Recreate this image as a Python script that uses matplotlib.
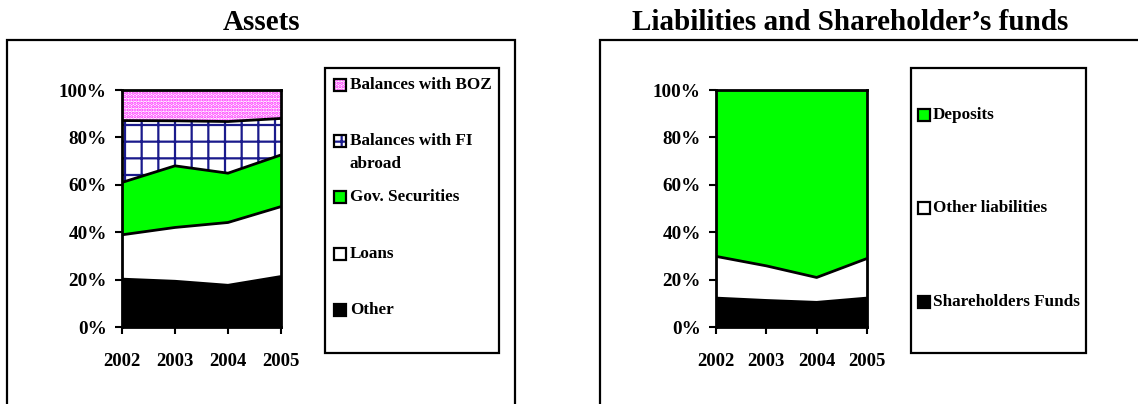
import numpy as np
import matplotlib
matplotlib.use('Agg')
import matplotlib.pyplot as plt
from matplotlib.patches import Rectangle

plt.rcParams['font.family'] = 'Liberation Serif'
plt.rcParams['font.weight'] = 'bold'
plt.rcParams['hatch.linewidth'] = 1.6

years = [2002, 2003, 2004, 2005]

# Assets (% shares, bottom to top)
other = [20.2, 19.3, 17.6, 21.3]
loans = [18.7, 22.7, 26.5, 29.5]
gov_sec = [22.1, 26.0, 20.8, 21.8]
fi_abroad = [26.1, 19.0, 21.8, 15.4]
boz = [12.9, 13.0, 13.3, 12.0]

# Liabilities and shareholder's funds (% shares, bottom to top)
sh_funds = [12.2, 11.2, 10.4, 12.2]
other_liab = [17.6, 14.6, 10.5, 16.7]
deposits = [70.2, 74.2, 79.1, 71.1]

asset_labels = ['Other', 'Loans', 'Gov. Securities', 'Balances with FI\nabroad', 'Balances with BOZ']
liab_labels = ['Shareholders Funds', 'Other liabilities', 'Deposits']

# fill styles: (facecolor, hatch, hatch colour)
asset_styles = [('black', None, 'black'), ('white', None, 'black'), ('#00FF00', None, 'black'),
                ('white', '+', '#1A1A8C'), ('white', '.....', '#FF22FF')]
liab_styles = [('black', None, 'black'), ('white', None, 'black'), ('#00FF00', None, 'black')]

W, H = 1138, 404
fig = plt.figure(figsize=(W / 100, H / 100), dpi=100)


def fx(x):
    return x / W


def fy(y):
    return 1 - y / H


def stacked(ax, series, styles):
    base = np.zeros(len(years))
    for vals, (fc, hatch, hc) in zip(series, styles):
        top = base + np.array(vals)
        ax.fill_between(years, base, top, facecolor=fc, hatch=hatch, edgecolor=hc, linewidth=0)
        base = top
    base = np.zeros(len(years))
    for vals in series[:-1]:
        base = base + np.array(vals)
        ax.plot(years, base, color='black', lw=2, solid_capstyle='butt')
    ax.set_xlim(2002, 2005)
    ax.set_ylim(0, 100)
    ax.set_xticks(years)
    ax.set_xticklabels([str(y) for y in years])
    ax.set_yticks(range(0, 101, 20))
    ax.set_yticklabels([f'{v}%' for v in range(0, 101, 20)])
    ax.tick_params(axis='y', direction='out', length=5, width=1.5, pad=6, labelsize=13.8)
    ax.tick_params(axis='x', direction='out', length=5, width=1.5, pad=14, labelsize=13.5)
    for s in ax.spines.values():
        s.set_linewidth(2)
        s.set_color('black')


def legend(labels, styles, rows, px, tx):
    for lab, (fc, hatch, hc), ry in zip(labels, styles, rows):
        xy = (fx(px), fy(ry + 6))
        fig.patches.append(Rectangle(xy, fx(12), 12 / H, transform=fig.transFigure,
                                     facecolor=fc, hatch=hatch, edgecolor=hc, lw=0))
        fig.patches.append(Rectangle(xy, fx(12), 12 / H, transform=fig.transFigure,
                                     facecolor='none', edgecolor='black', lw=1.6))
        for i, line in enumerate(lab.split('\n')):
            fig.text(fx(tx), fy(ry + i * 23), line, fontsize=12.3, fontweight='bold',
                     ha='left', va='center')


# outer frames
fig.patches.append(Rectangle((fx(7), -0.1), fx(508), fy(40) + 0.1, transform=fig.transFigure,
                             facecolor='none', edgecolor='black', lw=1.6))
fig.patches.append(Rectangle((fx(600), -0.1), fx(600), fy(40) + 0.1, transform=fig.transFigure,
                             facecolor='none', edgecolor='black', lw=1.6))

fig.text(fx(262), fy(22), 'Assets', fontsize=21, fontweight='bold', ha='center', va='center')
fig.text(fx(850), fy(22), 'Liabilities and Shareholder\u2019s funds', fontsize=21,
         fontweight='bold', ha='center', va='center')

ax1 = fig.add_axes([fx(122), fy(327), fx(159), 237 / H])
stacked(ax1, [other, loans, gov_sec, fi_abroad, boz], asset_styles)

ax2 = fig.add_axes([fx(716), fy(327), fx(151), 237 / H])
stacked(ax2, [sh_funds, other_liab, deposits], liab_styles)

# legend boxes
fig.patches.append(Rectangle((fx(325), fy(353)), fx(174), 285 / H, transform=fig.transFigure,
                             facecolor='white', edgecolor='black', lw=1.6))
fig.patches.append(Rectangle((fx(911), fy(353)), fx(175), 285 / H, transform=fig.transFigure,
                             facecolor='white', edgecolor='black', lw=1.6))

# legend entries, top to bottom
legend(asset_labels[::-1], asset_styles[::-1], [85, 141, 197, 254, 310], 334, 350)
legend(liab_labels[::-1], liab_styles[::-1], [115, 208, 302], 918, 933)

fig.savefig('out.png', dpi=100)
